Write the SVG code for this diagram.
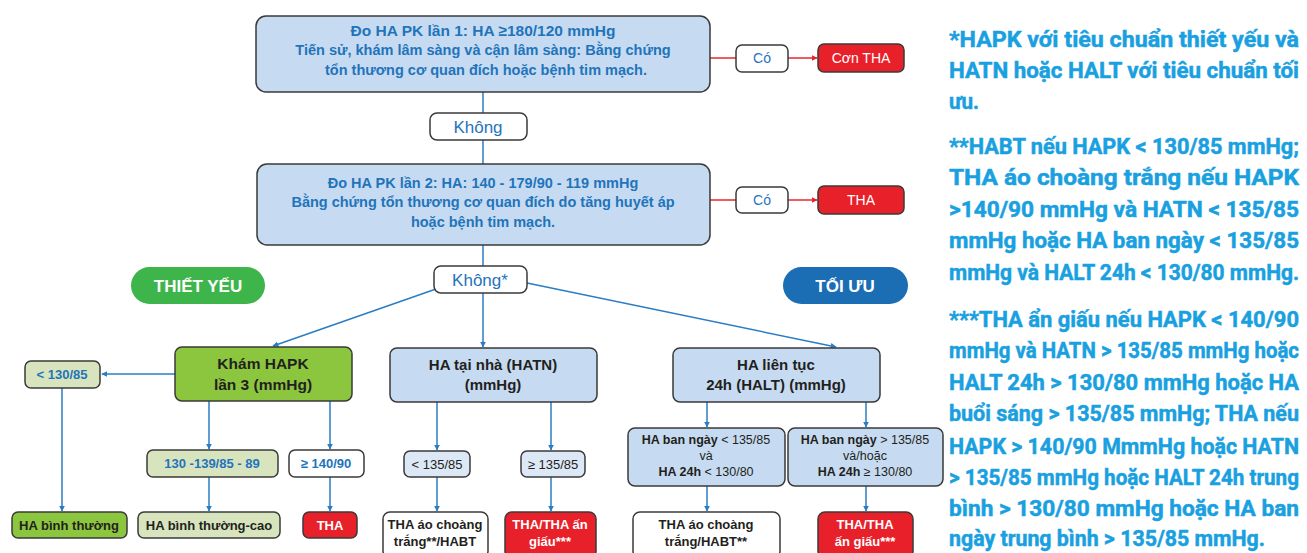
<svg xmlns="http://www.w3.org/2000/svg" width="1307" height="553" viewBox="0 0 1307 553">
<style>
.bx{stroke:#3a3a3a;stroke-width:1.5}
.lb{fill:#c6dbf1}.lg{fill:#d7e4bd}.gr{fill:#8cc63e}.wh{fill:#ffffff}.rd{fill:#e8202a}.lbb{fill:#dce8f5}
.t{font-family:"Liberation Sans",Arial,sans-serif;text-anchor:middle}
.b{font-weight:bold}
.blue{fill:#1f74bb}.dk{fill:#231f20}.w{fill:#ffffff}
.c{stroke:#2a7dc5;stroke-width:1.5;fill:none}
.cr{stroke:#e8242b;stroke-width:1.5;fill:none}
.note{font-family:"Roboto","Liberation Sans",sans-serif;font-weight:bold;font-size:22.5px;fill:#19a0e0;stroke:#19a0e0;stroke-width:0.5}
</style>
<defs>
<marker id="ab" viewBox="0 0 10 10" refX="9" refY="5" markerWidth="6" markerHeight="6" markerUnits="userSpaceOnUse" orient="auto"><path d="M0,0L10,5L0,10z" fill="#2a7dc5"/></marker>
<marker id="ar" viewBox="0 0 10 10" refX="9" refY="5" markerWidth="6" markerHeight="6" markerUnits="userSpaceOnUse" orient="auto"><path d="M0,0L10,5L0,10z" fill="#e8242b"/></marker>
</defs>
<rect width="1307" height="553" fill="#ffffff"/>
<g id="connectors">
<line class="c" x1="483" y1="92" x2="483" y2="113"/>
<line class="c" x1="483" y1="140" x2="483" y2="164"/>
<line class="cr" x1="710" y1="58" x2="736" y2="58"/>
<line class="cr" x1="788" y1="58" x2="817" y2="58" marker-end="url(#ar)"/>
<line class="cr" x1="710" y1="200" x2="736" y2="200"/>
<line class="cr" x1="788" y1="200" x2="817" y2="200" marker-end="url(#ar)"/>
<line class="c" x1="483" y1="245" x2="483" y2="266"/>
<line class="c" x1="483" y1="293" x2="483" y2="347" marker-end="url(#ab)"/>
<line class="c" x1="436" y1="289" x2="273" y2="346" marker-end="url(#ab)"/>
<line class="c" x1="527" y1="283" x2="836" y2="347" marker-end="url(#ab)"/>
<line class="c" x1="175" y1="374" x2="102" y2="374" marker-end="url(#ab)"/>
<line class="c" x1="62" y1="388" x2="62" y2="511" marker-end="url(#ab)"/>
<line class="c" x1="209" y1="401" x2="209" y2="449" marker-end="url(#ab)"/>
<line class="c" x1="209" y1="477" x2="209" y2="511" marker-end="url(#ab)"/>
<line class="c" x1="330" y1="401" x2="330" y2="449" marker-end="url(#ab)"/>
<line class="c" x1="330" y1="477" x2="330" y2="511" marker-end="url(#ab)"/>
<line class="c" x1="437" y1="402" x2="437" y2="450" marker-end="url(#ab)"/>
<line class="c" x1="437" y1="477" x2="437" y2="511" marker-end="url(#ab)"/>
<line class="c" x1="551" y1="402" x2="551" y2="450" marker-end="url(#ab)"/>
<line class="c" x1="551" y1="477" x2="551" y2="511" marker-end="url(#ab)"/>
<line class="c" x1="707" y1="402" x2="707" y2="427" marker-end="url(#ab)"/>
<line class="c" x1="707" y1="486" x2="707" y2="511" marker-end="url(#ab)"/>
<line class="c" x1="866" y1="402" x2="866" y2="427" marker-end="url(#ab)"/>
<line class="c" x1="866" y1="486" x2="866" y2="511" marker-end="url(#ab)"/>
</g>
<g id="n1"><rect class="bx lb" x="256" y="16" width="454" height="76" rx="10"/>
<text class="t b blue" font-size="14.5"><tspan x="483" y="36" font-size="15.5">Đo HA PK lần 1: HA ≥180/120 mmHg</tspan><tspan x="483" y="55">Tiến sử, khám lâm sàng và cận lâm sàng: Bằng chứng</tspan><tspan x="486" y="75">tổn thương cơ quan đích hoặc bệnh tim mạch.</tspan></text></g>
<g id="khong1"><rect class="bx wh" x="430" y="113" width="97" height="27" rx="7"/><text class="t blue" font-size="17" x="478" y="133">Không</text></g>
<g id="co1"><rect class="bx wh" x="736" y="45" width="52" height="27" rx="6"/><text class="t blue" font-size="14" x="762" y="63">Có</text></g>
<g id="conTHA"><rect class="bx rd" x="818" y="44" width="86" height="28" rx="6"/><text class="t w" font-size="14" x="861" y="63">Cơn THA</text></g>
<g id="n2"><rect class="bx lb" x="257" y="164" width="453" height="81" rx="10"/>
<text class="t b blue" font-size="14.5"><tspan x="483" y="188">Đo HA PK lần 2: HA: 140 - 179/90 - 119 mmHg</tspan><tspan x="483" y="207">Bằng chứng tổn thương cơ quan đích do tăng huyết áp</tspan><tspan x="483" y="227">hoặc bệnh tim mạch.</tspan></text></g>
<g id="co2"><rect class="bx wh" x="736" y="187" width="52" height="26" rx="6"/><text class="t blue" font-size="14" x="762" y="205">Có</text></g>
<g id="tha2"><rect class="bx rd" x="818" y="186" width="86" height="28" rx="6"/><text class="t w" font-size="14" x="861" y="205">THA</text></g>
<g id="khong2"><rect class="bx wh" x="434" y="266" width="93" height="27" rx="7"/><text class="t blue" font-size="17" x="480" y="286">Không*</text></g>
<g id="thietyeu"><rect x="131" y="267" width="134" height="37" rx="18.5" fill="#3db54a"/><text class="t b w" font-size="17" x="198" y="292">THIẾT YẾU</text></g>
<g id="toiuu"><rect x="783" y="267" width="125" height="37" rx="18.5" fill="#1b6db4"/><text class="t b w" font-size="17" x="845" y="292">TỐI ƯU</text></g>
<g id="kham"><rect class="bx gr" x="175" y="347" width="177" height="54" rx="7"/><text class="t b dk" font-size="15.5"><tspan x="263" y="369">Khám HAPK</tspan><tspan x="263" y="390">lần 3 (mmHg)</tspan></text></g>
<g id="lt130"><rect class="bx lg" x="25" y="361" width="75" height="27" rx="6"/><text class="t b blue" font-size="13" x="62" y="379">&lt; 130/85</text></g>
<g id="r130"><rect class="bx lg" x="147" y="450" width="131" height="27" rx="6"/><text class="t b blue" font-size="13" x="212" y="468">130 -139/85 - 89</text></g>
<g id="ge140"><rect class="bx wh" x="289" y="450" width="75" height="27" rx="6"/><text class="t b blue" font-size="13" x="326" y="468">≥ 140/90</text></g>
<g id="habt"><rect class="bx gr" x="12" y="512" width="115" height="26" rx="6"/><text class="t b dk" font-size="13" x="69" y="530">HA bình thường</text></g>
<g id="habtc"><rect class="bx lg" x="138" y="512" width="142" height="26" rx="6"/><text class="t b dk" font-size="13" x="209" y="530">HA bình thường-cao</text></g>
<g id="tha3"><rect class="bx rd" x="303" y="512" width="54" height="26" rx="6"/><text class="t b w" font-size="13" x="330" y="530">THA</text></g>
<g id="hatn"><rect class="bx lb" x="390" y="348" width="207" height="54" rx="7"/><text class="t b dk" font-size="15"><tspan x="493" y="370">HA tại nhà (HATN)</tspan><tspan x="493" y="390">(mmHg)</tspan></text></g>
<g id="lt135"><rect class="bx lbb" x="404" y="451" width="66" height="26" rx="6"/><text class="t dk" font-size="13" x="437" y="469">&lt; 135/85</text></g>
<g id="ge135"><rect class="bx lbb" x="521" y="451" width="64" height="26" rx="6"/><text class="t dk" font-size="13" x="553" y="469">≥ 135/85</text></g>
<g id="wc1"><rect class="bx wh" x="383" y="512" width="105" height="46" rx="7"/><text class="t b dk" font-size="13"><tspan x="435" y="529">THA áo choàng</tspan><tspan x="435" y="546">trắng**/HABT</tspan></text></g>
<g id="red1"><rect class="bx rd" x="505" y="512" width="91" height="46" rx="7"/><text class="t b w" font-size="13"><tspan x="550" y="529">THA/THA ấn</tspan><tspan x="550" y="546">giấu***</tspan></text></g>
<g id="halt"><rect class="bx lb" x="673" y="348" width="207" height="54" rx="7"/><text class="t b dk" font-size="15"><tspan x="776" y="370">HA liên tục</tspan><tspan x="776" y="390">24h (HALT) (mmHg)</tspan></text></g>
<g id="bn1"><rect class="bx lb" x="628" y="428" width="157" height="58" rx="7"/><text class="t dk" font-size="12.5"><tspan x="706" y="444"><tspan font-weight="bold">HA ban ngày</tspan> &lt; 135/85</tspan><tspan x="706" y="460">và</tspan><tspan x="706" y="476"><tspan font-weight="bold">HA 24h</tspan> &lt; 130/80</tspan></text></g>
<g id="bn2"><rect class="bx lb" x="788" y="428" width="155" height="58" rx="7"/><text class="t dk" font-size="12.5"><tspan x="865" y="444"><tspan font-weight="bold">HA ban ngày</tspan> &gt; 135/85</tspan><tspan x="865" y="460">và/hoặc</tspan><tspan x="865" y="476"><tspan font-weight="bold">HA 24h</tspan> ≥ 130/80</tspan></text></g>
<g id="wc2"><rect class="bx wh" x="633" y="512" width="147" height="46" rx="7"/><text class="t b dk" font-size="13"><tspan x="706" y="529">THA áo choàng</tspan><tspan x="706" y="546">trắng/HABT**</tspan></text></g>
<g id="red2"><rect class="bx rd" x="818" y="512" width="95" height="46" rx="7"/><text class="t b w" font-size="13"><tspan x="865" y="529">THA/THA</tspan><tspan x="865" y="546">ấn giấu***</tspan></text></g>
<g id="notes" class="note" transform="translate(949 0) scale(0.78 1)">
<text x="0" y="47" textLength="448.7" lengthAdjust="spacingAndGlyphs">*HAPK với tiêu chuẩn thiết yếu và</text>
<text x="0" y="78" textLength="448.7" lengthAdjust="spacingAndGlyphs">HATN hoặc HALT với tiêu chuẩn tối</text>
<text x="0" y="109" textLength="38.5" lengthAdjust="spacingAndGlyphs">ưu.</text>
<text x="0" y="154" textLength="448.7" lengthAdjust="spacingAndGlyphs">**HABT nếu HAPK &lt; 130/85 mmHg;</text>
<text x="0" y="185" textLength="448.7" lengthAdjust="spacingAndGlyphs">THA áo choàng trắng nếu HAPK</text>
<text x="0" y="217" textLength="448.7" lengthAdjust="spacingAndGlyphs">&gt;140/90 mmHg và HATN &lt; 135/85</text>
<text x="0" y="248" textLength="448.7" lengthAdjust="spacingAndGlyphs">mmHg hoặc HA ban ngày &lt; 135/85</text>
<text x="0" y="280" textLength="448.7" lengthAdjust="spacingAndGlyphs">mmHg và HALT 24h &lt; 130/80 mmHg.</text>
<text x="0" y="327" textLength="448.7" lengthAdjust="spacingAndGlyphs">***THA ẩn giấu nếu HAPK &lt; 140/90</text>
<text x="0" y="358" textLength="448.7" lengthAdjust="spacingAndGlyphs">mmHg và HATN &gt; 135/85 mmHg hoặc</text>
<text x="0" y="390" textLength="448.7" lengthAdjust="spacingAndGlyphs">HALT 24h &gt; 130/80 mmHg hoặc HA</text>
<text x="0" y="421" textLength="448.7" lengthAdjust="spacingAndGlyphs">buổi sáng &gt; 135/85 mmHg; THA nếu</text>
<text x="0" y="454" textLength="448.7" lengthAdjust="spacingAndGlyphs">HAPK &gt; 140/90 MmmHg hoặc HATN</text>
<text x="0" y="485" textLength="448.7" lengthAdjust="spacingAndGlyphs">&gt; 135/85 mmHg hoặc HALT 24h trung</text>
<text x="0" y="516" textLength="448.7" lengthAdjust="spacingAndGlyphs">bình &gt; 130/80 mmHg hoặc HA ban</text>
<text x="0" y="546" textLength="405.1" lengthAdjust="spacingAndGlyphs">ngày trung bình &gt; 135/85 mmHg.</text>
</g>
</svg>
